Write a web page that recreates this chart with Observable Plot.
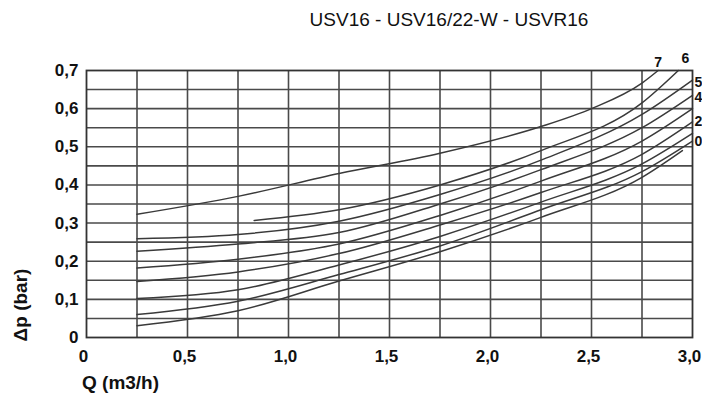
<!DOCTYPE html>
<html>
<head>
<meta charset="utf-8">
<script src="https://cdn.jsdelivr.net/npm/d3@7"></script>
<script src="https://cdn.jsdelivr.net/npm/@observablehq/plot@0.6"></script>
<style>
  body { margin: 0; background: #fff; }
  #wrap { position: relative; width: 702px; height: 405px; overflow: hidden; font-family: "Liberation Sans Narrow", "Liberation Sans", Arial, sans-serif; color: #111; }
  #title { position: absolute; top: 9px; left: 449px; transform: translateX(-50%); font-size: 19px; white-space: nowrap; }
  #xlab { position: absolute; top: 372px; left: 82px; font-size: 19px; font-weight: bold; white-space: nowrap; }
  #ylab { position: absolute; left: 21px; top: 305px; transform: translate(-50%, -50%) rotate(-90deg); font-size: 19px; font-weight: bold; white-space: nowrap; }
  #chart { position: absolute; left: 0; top: 0; }
</style>
</head>
<body>
<div id="wrap">
  <div id="chart"></div>
  <div id="title"></div>
  <div id="xlab"></div>
  <div id="ylab"></div>
</div>
<script>
// ---- texts ----
const titleText = "USV16 - USV16/22-W - USVR16";
const xLabel = "Q (m3/h)";
const yLabel = "Δp (bar)";

// ---- axes ----
const xTicks = [0, 0.5, 1.0, 1.5, 2.0, 2.5, 3.0];
const yTicks = [0, 0.1, 0.2, 0.3, 0.4, 0.5, 0.6, 0.7];
const xGrid = [0.25, 0.5, 0.75, 1.0, 1.25, 1.5, 1.75, 2.0, 2.25, 2.5, 2.75];
const yGrid = [0.05, 0.1, 0.15, 0.2, 0.25, 0.3, 0.35, 0.4, 0.45, 0.5, 0.55, 0.6, 0.65];

// ---- curves (Q in m3/h, Δp in bar) ----
const q7 = [0.25, 0.75, 1.25, 1.75, 2.25, 2.5, 2.75, 2.83];
const dp7 = [0.323, 0.37, 0.43, 0.483, 0.553, 0.60, 0.667, 0.70];
const q6 = [0.83, 1.25, 1.75, 2.25, 2.75, 2.93];
const dp6 = [0.307, 0.335, 0.40, 0.49, 0.615, 0.70];
const qStd = [0.25, 0.75, 1.25, 1.75, 2.25, 2.75, 3.0];
const dp5 = [0.259, 0.27, 0.305, 0.375, 0.465, 0.585, 0.675];
const dp4 = [0.226, 0.245, 0.275, 0.35, 0.44, 0.55, 0.635];
const dp3 = [0.182, 0.205, 0.245, 0.32, 0.41, 0.515, 0.60];
const dp2 = [0.147, 0.172, 0.22, 0.295, 0.38, 0.48, 0.565];
const dp1 = [0.102, 0.125, 0.19, 0.265, 0.355, 0.455, 0.535];
const dp0 = [0.060, 0.095, 0.165, 0.24, 0.335, 0.435, 0.515];
const qLow = [0.25, 0.75, 1.25, 1.75, 2.25, 2.75, 2.95];
const dpLow = [0.031, 0.07, 0.148, 0.225, 0.315, 0.42, 0.49];

// ---- curve labels ----
const labelNames = ["7", "6", "5", "4", "2", "0"];
const labelQ = [2.83, 2.965, 3.0, 3.0, 3.0, 3.0];
const labelDp = [0.722, 0.732, 0.669, 0.63, 0.567, 0.514];
const labelSide = ["top", "top", "right", "right", "right", "right"];

const series = [
  ["7", q7, dp7], ["6", q6, dp6], ["5", qStd, dp5], ["4", qStd, dp4],
  ["3", qStd, dp3], ["2", qStd, dp2], ["1", qStd, dp1], ["0", qStd, dp0], ["low", qLow, dpLow]
];
const lineData = series.flatMap(([k, qs, ds]) => qs.map((q, i) => ({k, q, dp: ds[i]})));
const labels = labelNames.map((n, i) => ({n, q: labelQ[i], dp: labelDp[i], side: labelSide[i]}));

const fmt = d => d === 0 ? "0" : d.toFixed(1).replace(".", ",");

const plot = Plot.plot({
  width: 702,
  height: 405,
  marginLeft: 86,
  marginRight: 10,
  marginTop: 70,
  marginBottom: 68,
  style: {fontFamily: "'Liberation Sans Narrow', 'Liberation Sans', Arial, sans-serif", fontSize: "17px", fontWeight: "bold", color: "#111", background: "transparent", overflow: "visible"},
  x: {domain: [0, 3], label: null},
  y: {domain: [0, 0.7], label: null},
  marks: [
    Plot.ruleX(xGrid, {stroke: "#4a4a4a", strokeWidth: 1.6}),
    Plot.ruleY(yGrid, {stroke: "#4a4a4a", strokeWidth: 1.6}),
    Plot.line(lineData, {x: "q", y: "dp", z: "k", curve: "monotone-x", stroke: "#3a3a3a", strokeWidth: 1.5}),
    Plot.frame({stroke: "#333", strokeWidth: 1.8}),
    Plot.axisX({ticks: xTicks, tickFormat: fmt, tickSize: 0, tickPadding: 12, dx: -3, label: null}),
    Plot.axisY({ticks: yTicks, tickFormat: fmt, tickSize: 0, tickPadding: 8, label: null}),
    Plot.text(labels.filter(d => d.side === "top"), {x: "q", y: "dp", text: "n", fontSize: 14, fontWeight: "bold", fill: "#111"}),
    Plot.text(labels.filter(d => d.side === "right"), {x: "q", y: "dp", text: "n", dx: 2, textAnchor: "start", fontSize: 14, fontWeight: "bold", fill: "#111"})
  ]
});
document.getElementById("chart").appendChild(plot);
document.getElementById("title").textContent = titleText;
document.getElementById("xlab").textContent = xLabel;
document.getElementById("ylab").textContent = yLabel;
</script>
</body>
</html>
